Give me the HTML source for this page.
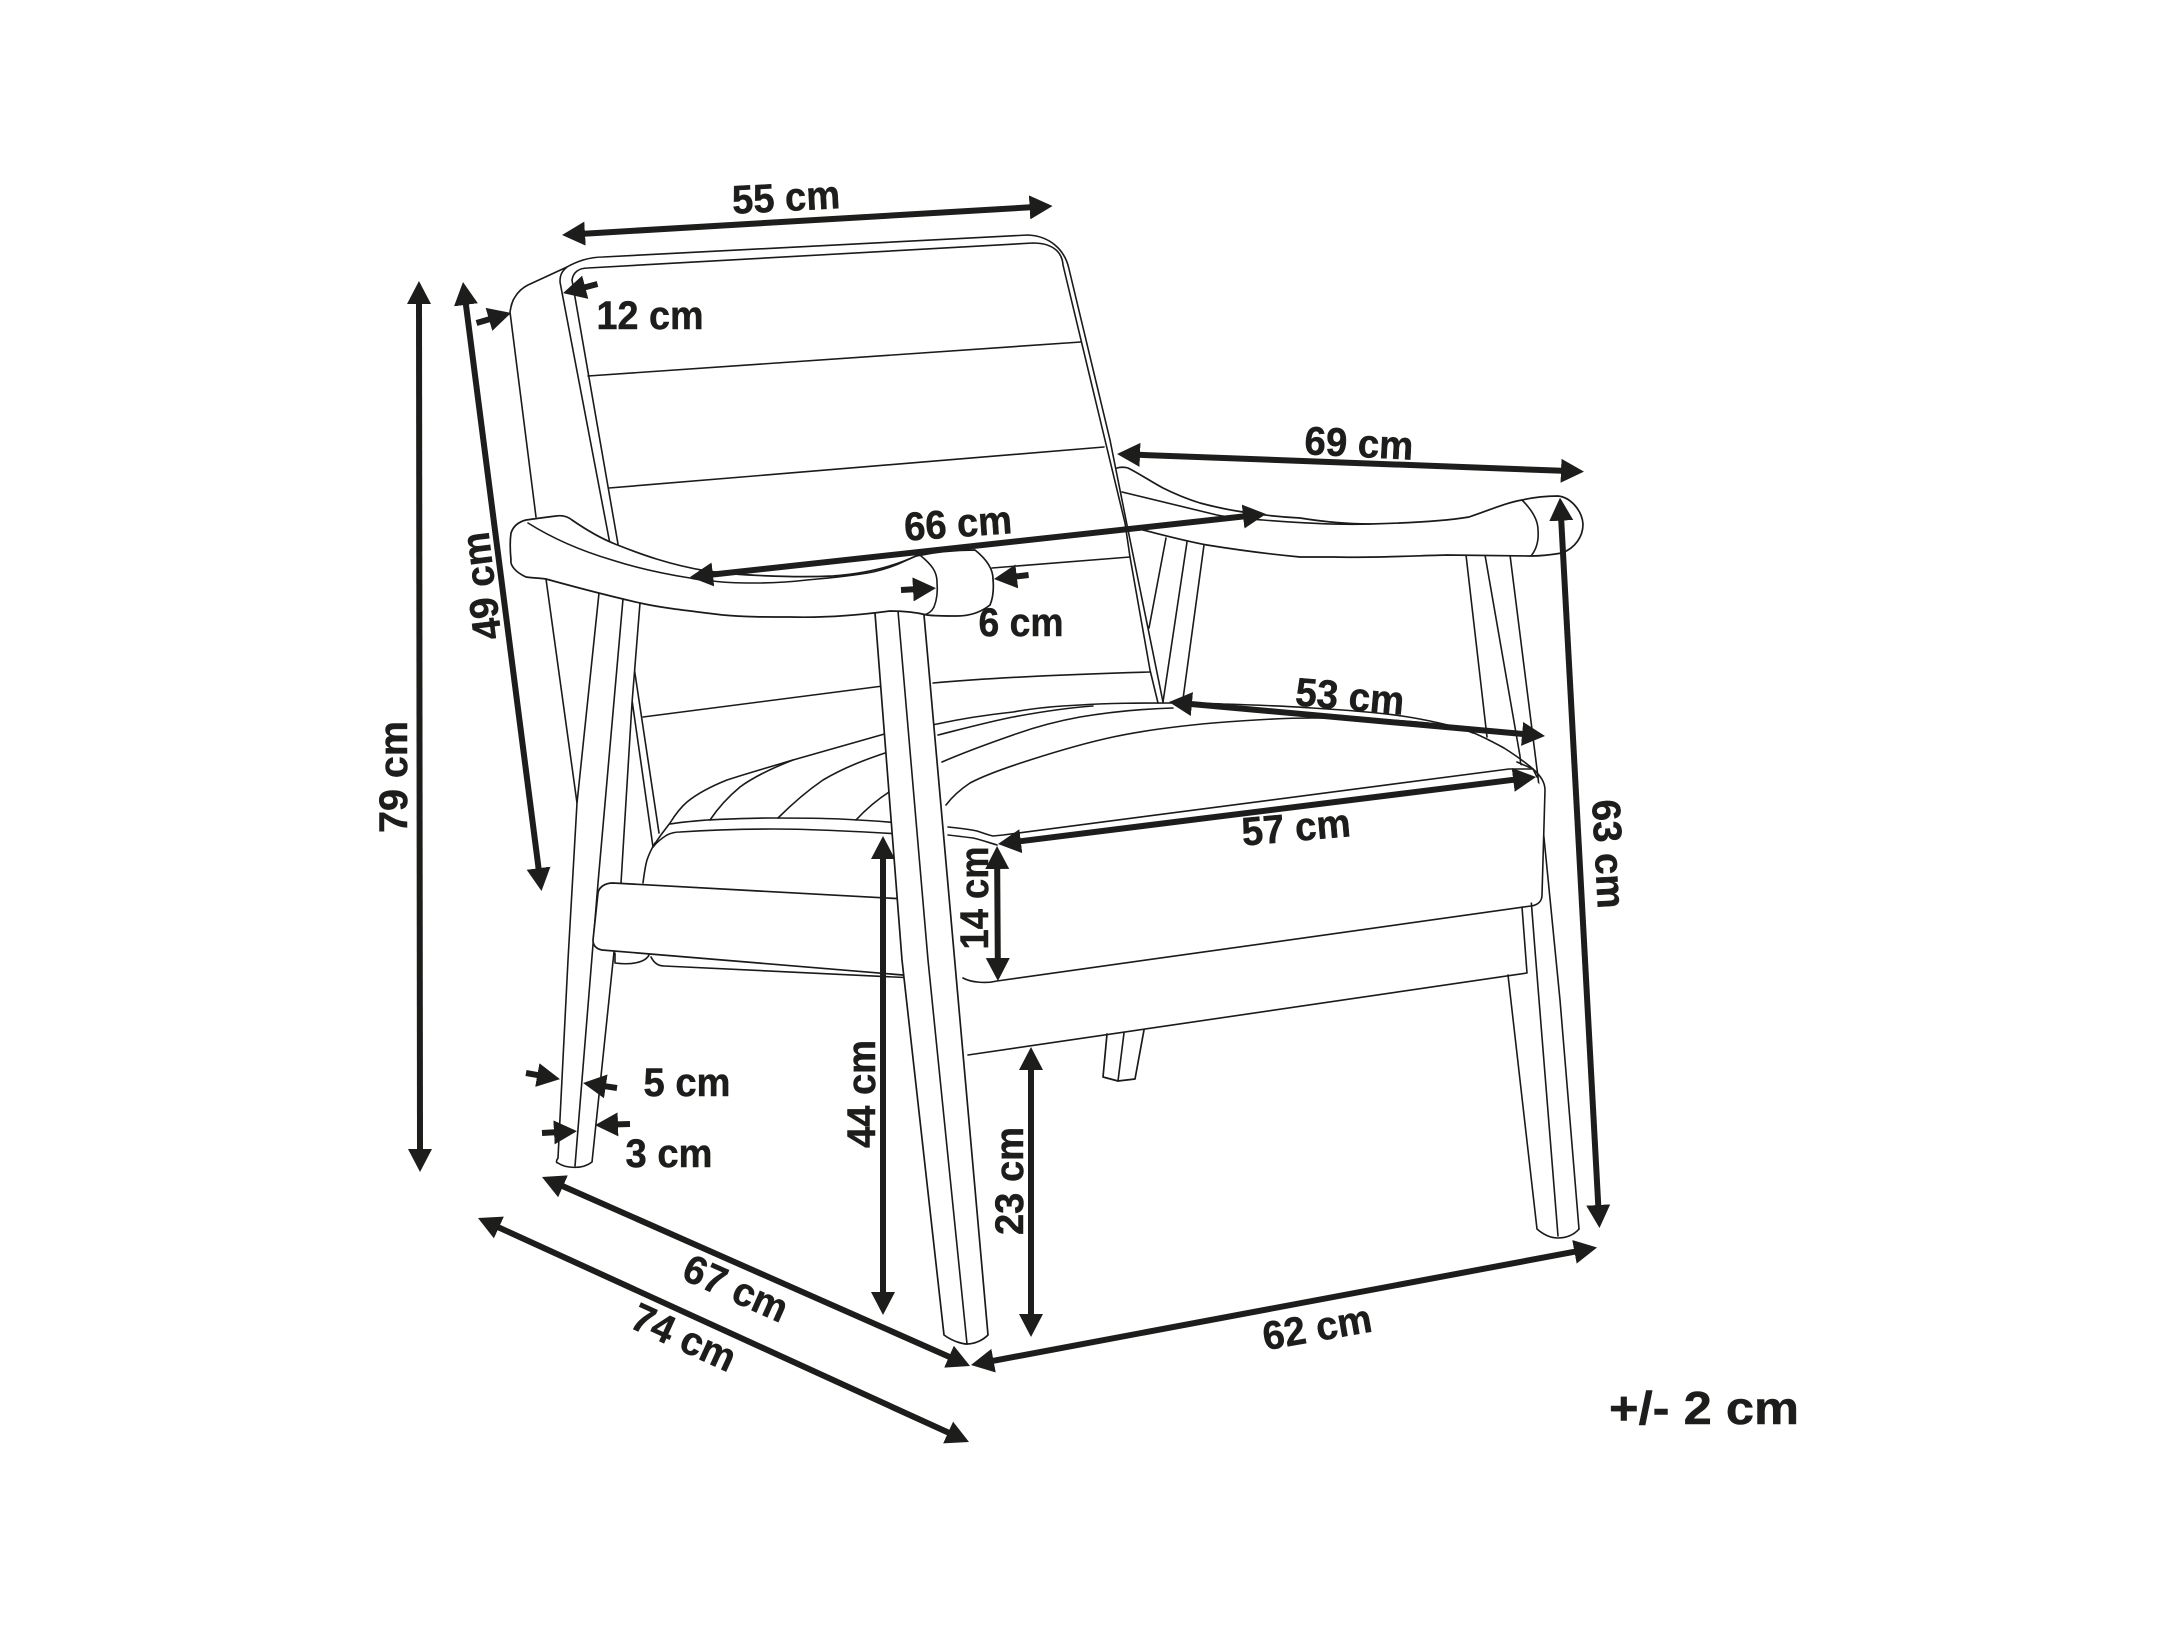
<!DOCTYPE html>
<html><head><meta charset="utf-8"><title>Armchair dimensions</title>
<style>
html,body{margin:0;padding:0;background:#fff}
svg{display:block}
.l{fill:none;stroke:#1a1a1a;stroke-width:1.6;stroke-linejoin:round;stroke-linecap:round}
.f{fill:#fff;stroke:#1a1a1a;stroke-width:1.7;stroke-linejoin:round;stroke-linecap:round}
.n{fill:#fff;stroke:none}
.a{fill:none;stroke:#1d1d1b;stroke-width:6;marker-end:url(#h);marker-start:url(#s)}
.b{fill:none;stroke:#1d1d1b;stroke-width:6;marker-end:url(#h)}
text{font-family:"Liberation Sans",sans-serif;font-weight:bold;font-size:40px;fill:#1d1d1b;stroke:#1d1d1b;stroke-width:.5;text-anchor:middle}
</style></head>
<body>
<svg xmlns="http://www.w3.org/2000/svg" width="2174" height="1630" viewBox="0 0 2174 1630">
<defs>
<marker id="h" markerUnits="userSpaceOnUse" markerWidth="30" markerHeight="30" refX="1" refY="15" orient="auto"><path d="M0,3 L23,15 L0,27 Z" fill="#1d1d1b"/></marker>
<marker id="s" markerUnits="userSpaceOnUse" markerWidth="30" markerHeight="30" refX="1" refY="15" orient="auto-start-reverse"><path d="M0,3 L23,15 L0,27 Z" fill="#1d1d1b"/></marker>
</defs>
<rect width="2174" height="1630" fill="#fff"/>

<!-- rear small leg -->
<path class="f" d="M1107,1034 L1103,1077 L1118,1081 L1135,1079 L1144,1030"/>
<path class="l" d="M1124,1033 L1118,1081"/>

<!-- struts between back and right arm -->
<path class="l" d="M1166,538 L1149,628"/>
<path class="l" d="M1187,542 L1163,702"/>
<path class="l" d="M1204,545 L1183,699"/>

<!-- right rear leg -->
<path class="l" d="M1466,555 L1487,737"/>
<path class="l" d="M1485,555 L1520,756 L1535,950 L1558,1236"/>
<path class="l" d="M1510,555 L1538,777 L1560,1000 L1579,1229"/>
<path class="l" d="M1508,975 L1537,1229 C1545,1236 1552,1238 1558,1238 C1566,1238 1574,1235 1579,1229"/>

<!-- frame rail -->
<path class="l" d="M1522,907 L1527,973 L968,1055"/>

<!-- right arm -->
<path class="f" d="M1117,468 C1120,467 1125,467 1128,468 C1140,474 1150,481 1163,488 C1175,494 1187,499 1200,503 C1215,507 1229,510 1243,512 C1262,515 1281,517 1300,518 C1325,522 1350,524 1370,524 C1410,523 1445,521 1469,517 C1490,510 1505,503 1522,500 C1535,497 1545,496 1558,496 C1570,497 1582,510 1583,524 C1583,537 1575,548 1562,553 C1550,555 1540,556 1531,556 L1446,555 C1410,556 1370,558 1335,557 C1322,557 1310,557 1300,557 C1268,554 1238,550 1207,545 C1185,541 1163,535 1143,530"/>
<path class="l" d="M1122,492 L1217,515 C1232,518 1248,519 1263,520 C1300,523 1340,525 1370,524"/>
<path class="l" d="M1522,500 C1532,510 1538,520 1538,530 C1539,542 1536,550 1531,556"/>

<!-- back -->
<path class="l" d="M536,517 L510,312 C511,306 512,301 515,297 C518,292 522,288 528,285 L567,267 C572,264 577,262 583,260 C590,258 596,257 603,257 L1028,235 C1050,236 1065,250 1069,269 L1110,440 L1128,530 L1163,702"/>
<path class="l" d="M610,544 L560,282 C560,276 561,272 567,267"/>
<path class="l" d="M618,544 L572,280 C573,273 578,268 588,268 L1033,243 C1050,243 1062,250 1063,265 L1105,440 L1125,523 L1130,557 L1150,670 L1158,703"/>
<path class="l" d="M588,376 L1081,342"/>
<path class="l" d="M609,488 L1104,447"/>
<path class="l" d="M992,568 L1130,557"/>
<path class="l" d="M643,717 L883,686"/>
<path class="l" d="M933,683 C1000,677 1080,674 1150,672"/>
<path class="l" d="M634,667 L659,833"/>
<path class="l" d="M632,700 L653,847"/>

<!-- back-left lower frame -->
<path class="l" d="M546,579 L577,803"/>

<!-- seat -->
<path class="n" d="M653,847 L687,802 L727,780 L888,733 L1030,707 L1223,704 L1402,716 L1504,748 L1545,790 L1542,901 L997,981 L963,978 L643,883 Z"/>
<path class="l" d="M653,847 C658,838 664,831 670,823 C675,815 680,808 687,802 C698,793 712,786 727,780 C748,773 770,767 793,760 C825,751 857,742 888,733 L937,724 C960,719 985,715 1013,712 C1035,708 1058,706 1080,705 C1110,703 1140,703 1173,703 C1190,703 1205,703 1223,704 C1255,705 1285,706 1312,708 C1345,710 1375,712 1402,716 C1428,720 1450,725 1469,731 C1482,736 1493,742 1504,748 C1515,755 1525,762 1533,769 C1540,775 1545,782 1545,790 L1542,895 C1542,901 1538,905 1531,906 L997,981 C985,984 970,982 963,978"/>
<path class="l" d="M938,735 C962,729 988,722 1013,717 C1040,712 1065,708 1093,706"/>
<path class="l" d="M942,762 C965,752 990,743 1013,735 C1035,727 1058,721 1080,717 C1110,712 1140,709 1173,708"/>
<path class="l" d="M946,805 C952,797 961,789 970,783 C985,775 1008,767 1030,760 C1058,751 1085,743 1113,737 C1145,730 1180,726 1213,723 C1250,720 1280,718 1312,718 C1360,718 1405,720 1446,725 C1458,727 1466,730 1473,733"/>
<path class="l" d="M670,824 C682,822 695,821 707,820 C730,819 750,818 773,818 C795,818 818,818 840,819 C860,820 878,821 900,823"/>
<path class="l" d="M653,847 C657,842 662,838 667,835 C671,833 675,832 680,832 C710,830 740,829 773,829 C810,829 850,831 900,834"/>
<path class="l" d="M948,827 C958,828 968,829 977,831 C983,833 988,835 993,836 L1003,835 L1509,769 L1533,769"/>
<path class="l" d="M948,835 C957,836 965,837 973,838 C982,840 990,843 997,845"/>
<path class="l" d="M643,883 C644,875 645,867 647,860 C649,854 652,848 655,843"/>
<path class="l" d="M710,820 C718,808 728,797 740,787 C755,776 775,767 793,760"/>
<path class="l" d="M778,818 C792,804 807,791 823,780 C845,767 867,759 888,752"/>
<path class="l" d="M856,820 C866,809 878,799 892,790"/>
<path class="l" d="M1517,762 L1533,769 L1537,777"/>

<!-- left leg -->
<path class="n" d="M599,593 L577,803 L558,1160 L592,1162 L640,603 Z"/>
<path class="l" d="M599,593 L577,803 L568,960 L558,1158 C556,1161 556,1163 558,1163 C565,1168 582,1170 592,1162 L614,952 L621,883 L632,703 L640,603"/>
<path class="l" d="M623,599 L598,883 L575,1166"/>

<!-- rail box -->
<path class="f" d="M905,899 L613,883 C605,883 599,887 598,893 L593,940 C593,946 597,949 602,950 L915,976"/>
<path class="l" d="M615,953 L615,963 C630,965 645,963 649,955"/>
<path class="l" d="M651,957 C654,963 658,966 664,966 L915,978"/>

<!-- front leg -->
<path class="f" d="M875,613 L902,960 L944,1335 C955,1343 965,1344 967,1344 C975,1344 983,1340 988,1335 L924,615"/>
<path class="l" d="M898,611 L928,960 L967,1344"/>

<!-- left arm -->
<path class="f" d="M526,520 C540,518 548,517 556,516 C562,515 567,516 572,520 C585,529 600,538 615,544 C640,554 670,565 707,571 C735,575 790,578 833,576 C860,574 890,568 916,556 C935,552 955,550 975,550 C985,558 993,568 993,579 C994,590 993,598 990,605 C980,613 968,616 957,616 C945,616 935,616 927,615 C915,612 905,611 890,611 C860,615 825,618 790,617 C765,617 745,617 723,615 C690,611 662,608 640,603 C605,595 575,587 546,579 C540,578 532,578 526,577 C515,572 510,565 511,560 C510,550 510,540 511,533 C513,527 518,522 526,520 Z"/>
<path class="l" d="M528,523 C555,540 585,552 612,560 C640,569 665,574 690,578 C700,580 707,581 713,581 C727,583 740,583 753,583 C772,583 790,582 807,580 C830,578 852,576 873,572 C886,569 897,565 907,560 L916,556"/>
<path class="l" d="M921,556 C932,565 937,572 937,582 C938,593 936,602 934,607 C932,611 928,614 924,615"/>

<!-- double arrows -->
<path class="a" d="M584,233.7 L1030.6,207.3"/>
<path class="a" d="M419,303 L420,1150"/>
<path class="a" d="M465.8,303.8 L538.7,869.2"/>
<path class="a" d="M711.9,574.6 L1244.1,516.4"/>
<path class="a" d="M1139,454.8 L1562,470.8"/>
<path class="a" d="M1190.9,704 L1523.1,734"/>
<path class="a" d="M1019.8,841.3 L1514.2,779.7"/>
<path class="a" d="M997.2,868 L997.8,959"/>
<path class="a" d="M883,858 L883,1293"/>
<path class="a" d="M1031,1069 L1031,1315"/>
<path class="a" d="M562.1,1185.9 L949.9,1357.1"/>
<path class="a" d="M498,1227.1 L949,1432.9"/>
<path class="a" d="M992.6,1360.9 L1575.4,1251.6"/>
<path class="a" d="M1561.2,519.6 L1598.3,1206"/>

<!-- single arrows -->
<path class="b" d="M476.5,323 L489.9,319.1"/>
<path class="b" d="M597.5,284 L584.3,287.5"/>
<path class="b" d="M901,590 L914,589.3"/>
<path class="b" d="M1028.6,575 L1015.8,576.5"/>
<path class="b" d="M526,1073 L538.3,1075.2"/>
<path class="b" d="M617,1088 L604.8,1086.2"/>
<path class="b" d="M542,1133 L555,1132.3"/>
<path class="b" d="M630,1124 L617,1124.4"/>

<!-- labels -->
<text transform="translate(786,197) rotate(-3)" y="14" textLength="108" lengthAdjust="spacingAndGlyphs">55 cm</text>
<text transform="translate(650,315)" y="14" textLength="107" lengthAdjust="spacingAndGlyphs">12 cm</text>
<text transform="translate(958,523) rotate(-4)" y="14" textLength="108" lengthAdjust="spacingAndGlyphs">66 cm</text>
<text transform="translate(1021,622)" y="14" textLength="85" lengthAdjust="spacingAndGlyphs">6 cm</text>
<text transform="translate(481,586) rotate(-97)" y="14" textLength="108" lengthAdjust="spacingAndGlyphs">49 cm</text>
<text transform="translate(393,777) rotate(-90)" y="14" textLength="112" lengthAdjust="spacingAndGlyphs">79 cm</text>
<text transform="translate(1359,443) rotate(3)" y="14" textLength="109" lengthAdjust="spacingAndGlyphs">69 cm</text>
<text transform="translate(1350,696) rotate(5)" y="14" textLength="109" lengthAdjust="spacingAndGlyphs">53 cm</text>
<text transform="translate(1296,827) rotate(-5)" y="14" textLength="109" lengthAdjust="spacingAndGlyphs">57 cm</text>
<text transform="translate(1609,854) rotate(87)" y="14" textLength="109" lengthAdjust="spacingAndGlyphs">63 cm</text>
<text transform="translate(974,898) rotate(-90)" y="14" textLength="103" lengthAdjust="spacingAndGlyphs">14 cm</text>
<text transform="translate(861,1094) rotate(-90)" y="14" textLength="108" lengthAdjust="spacingAndGlyphs">44 cm</text>
<text transform="translate(1009,1181) rotate(-90)" y="14" textLength="108" lengthAdjust="spacingAndGlyphs">23 cm</text>
<text transform="translate(687,1082)" y="14" textLength="87" lengthAdjust="spacingAndGlyphs">5 cm</text>
<text transform="translate(669,1153)" y="14" textLength="87" lengthAdjust="spacingAndGlyphs">3 cm</text>
<text transform="translate(736,1288) rotate(24)" y="14" textLength="110" lengthAdjust="spacingAndGlyphs">67 cm</text>
<text transform="translate(684,1337) rotate(24.5)" y="14" textLength="110" lengthAdjust="spacingAndGlyphs">74 cm</text>
<text transform="translate(1317,1327) rotate(-10)" y="14" textLength="110" lengthAdjust="spacingAndGlyphs">62 cm</text>
<text transform="translate(1704,1408)" y="16" style="font-size:46px" textLength="190" lengthAdjust="spacingAndGlyphs">+/- 2 cm</text>
</svg>
</body></html>
